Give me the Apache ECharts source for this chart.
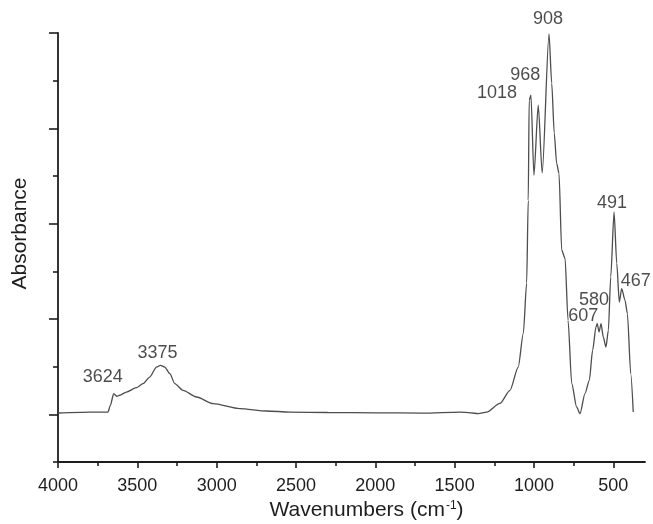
<!DOCTYPE html>
<html>
<head>
<meta charset="utf-8">
<script src="https://cdn.jsdelivr.net/npm/echarts@6/dist/echarts.min.js"></script>
<style>
html,body{margin:0;padding:0;background:#fff;}
#chart{width:653px;height:524px;}
</style>
</head>
<body>
<div id="chart"></div>
<script>
// Wavenumbers (cm-1) and absorbance
var wavenumbers = [4000, 3800, 3685, 3670, 3649, 3628, 3611, 3569, 3506, 3464, 3422, 3379, 3354, 3327, 3295, 3264, 3212, 3127, 3022, 2854, 2686, 2539, 2300, 2000, 1700, 1467, 1400, 1351, 1298, 1214, 1151, 1099, 1067, 1046, 1036, 1030, 1019, 1000, 973, 948, 905, 888, 872, 857, 842, 825, 804, 785, 762, 731, 710, 678, 651, 630, 609, 601, 590, 577, 563, 546, 531, 516, 495, 478, 462, 447, 426, 411, 390, 374];
var absorbance = [0.014, 0.024, 0.024, 0.094, 0.217, 0.189, 0.200, 0.234, 0.280, 0.322, 0.391, 0.496, 0.514, 0.496, 0.427, 0.322, 0.252, 0.182, 0.112, 0.060, 0.035, 0.024, 0.019, 0.016, 0.013, 0.024, 0.016, 0.007, 0.024, 0.115, 0.252, 0.496, 0.850, 1.375, 2.245, 3.295, 3.347, 2.508, 3.242, 2.532, 3.990, 3.473, 2.949, 2.634, 2.526, 1.721, 1.637, 0.986, 0.325, 0.077, 0.007, 0.220, 0.357, 0.672, 0.916, 0.952, 0.864, 0.952, 0.811, 0.706, 0.881, 1.441, 2.123, 1.584, 1.178, 1.319, 1.196, 1.057, 0.427, 0.024];

// Peak annotations: text and the wavenumber of the curve point they mark
var peakNames = ['3624', '3375', '1018', '968', '908', '607', '580', '491', '467'];
var peakAt = [3649, 3354, 1019, 973, 905, 601, 577, 495, 447];

// Axis tick values
var xMajorTicks = [4000, 3500, 3000, 2500, 2000, 1500, 1000, 500];
var xMinorTicks = [3750, 3250, 2750, 2250, 1750, 1250, 750];
var yMajorTicks = [0, 1, 2, 3, 4];
var yMinorTicks = [-0.5, 0.5, 1.5, 2.5, 3.5];

var FONT = 'Liberation Sans, Arial, Helvetica, sans-serif';
var INK = '#1e1e1e';

var curve = wavenumbers.map(function (w, i) { return [w, absorbance[i]]; });

// label offsets (px) relative to the marked peak point
var labelOffset = {
  '3624': [-11, -17], '3375': [-3, -12], '1018': [-34, -2], '968': [-13, -30],
  '908': [-1, -15], '607': [-14, -8], '580': [-7, -24], '491': [-2, -9], '467': [14, -8]
};

var peakData = peakNames.map(function (name, i) {
  var idx = wavenumbers.indexOf(peakAt[i]);
  return { value: [peakAt[i], absorbance[idx]], name: name, label: { offset: labelOffset[name] } };
});

var chart = echarts.init(document.getElementById('chart'), null, { renderer: 'canvas' });

var option = {
  animation: false,
  backgroundColor: '#ffffff',
  grid: { left: 58, right: 8, top: 33, bottom: 62, containLabel: false, outerBoundsMode: 'none' },
  xAxis: [
    {
      type: 'value', min: 300, max: 4000, inverse: true, position: 'bottom',
      name: 'Wavenumbers (cm{sup|-1})', nameLocation: 'middle', nameGap: 34,
      nameTextStyle: { fontFamily: FONT, fontSize: 21, color: INK, padding: [0, 0, 0, 30],
        rich: { sup: { fontFamily: FONT, fontSize: 12, color: INK, verticalAlign: 'top', padding: [0, 0, 0, 1] } } },
      axisLine: { show: true, onZero: false, lineStyle: { color: INK, width: 1.8 } },
      axisTick: { show: true, length: 6, lineStyle: { color: INK, width: 1.6 }, customValues: xMajorTicks },
      axisLabel: { show: true, fontFamily: FONT, fontSize: 18, color: INK, margin: 15, customValues: xMajorTicks,
        formatter: function (v) { return String(v); } },
      splitLine: { show: false }
    },
    {
      type: 'value', min: 300, max: 4000, inverse: true, position: 'bottom',
      axisLine: { show: false, onZero: false },
      axisTick: { show: true, length: 4, lineStyle: { color: INK, width: 1.6 }, customValues: xMinorTicks },
      axisLabel: { show: false },
      splitLine: { show: false }
    }
  ],
  yAxis: [
    {
      type: 'value', min: -0.5, max: 4, position: 'left',
      name: 'Absorbance', nameLocation: 'middle', nameGap: 27,
      nameTextStyle: { fontFamily: FONT, fontSize: 21, color: INK, padding: [0, 0, 0, 28] },
      axisLine: { show: true, onZero: false, lineStyle: { color: INK, width: 1.8 } },
      axisTick: { show: true, length: 9, lineStyle: { color: INK, width: 1.6 }, customValues: yMajorTicks },
      axisLabel: { show: false },
      splitLine: { show: false }
    },
    {
      type: 'value', min: -0.5, max: 4, position: 'left',
      axisLine: { show: false, onZero: false },
      axisTick: { show: true, length: 5, lineStyle: { color: INK, width: 1.6 }, customValues: yMinorTicks },
      axisLabel: { show: false },
      splitLine: { show: false }
    }
  ],
  series: [
    { type: 'line', xAxisIndex: 0, yAxisIndex: 0, data: curve, showSymbol: false, symbol: 'none',
      smooth: 0.25, smoothMonotone: 'x', lineStyle: { color: '#4d4d4d', width: 1.3 }, silent: true, z: 3 },
    { type: 'scatter', xAxisIndex: 0, yAxisIndex: 0, data: peakData, symbolSize: 0, silent: true,
      label: { show: true, position: 'inside', align: 'center', verticalAlign: 'middle',
        formatter: function (p) { return p.name; }, fontFamily: FONT, fontSize: 18, color: INK }, z: 4 }
  ]
};
chart.setOption(option);
</script>
</body>
</html>
